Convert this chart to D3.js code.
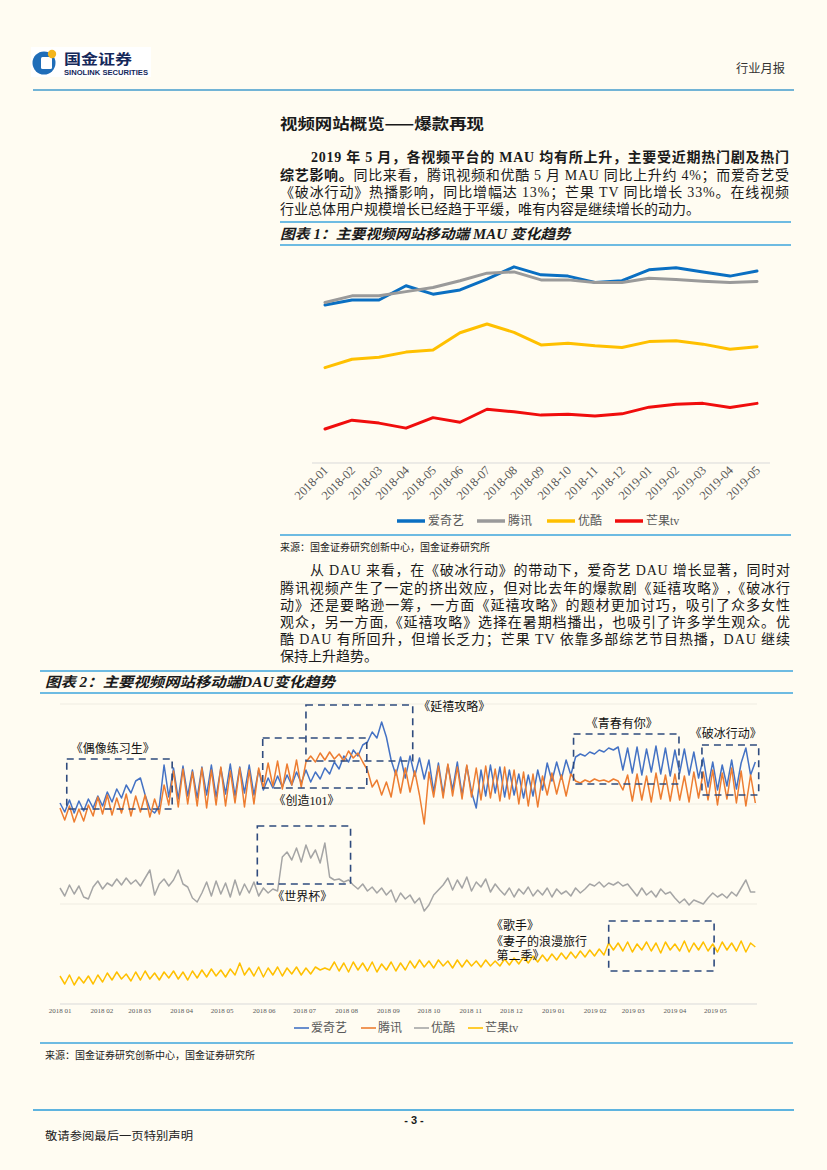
<!DOCTYPE html>
<html>
<head>
<meta charset="utf-8">
<script src="https://cdn.jsdelivr.net/npm/d3@7"></script>
<style>
  html, body { margin: 0; padding: 0; background: #fffcf2; }
  svg { display: block; }
</style>
</head>
<body>
<svg id="page" width="827" height="1170"></svg>
<script>
// ---- chart 1: monthly MAU (亿) ----
const mauMonths = ["2018-01","2018-02","2018-03","2018-04","2018-05","2018-06","2018-07","2018-08","2018-09",
  "2018-10","2018-11","2018-12","2019-01","2019-02","2019-03","2019-04","2019-05"];
const mauIqiyi   = [4.76,4.88,4.88,5.22,5.02,5.12,5.38,5.67,5.48,5.45,5.30,5.34,5.60,5.65,5.55,5.45,5.57];
const mauTencent = [4.82,4.98,4.98,5.08,5.18,5.34,5.52,5.55,5.36,5.36,5.30,5.30,5.40,5.37,5.33,5.30,5.32];
const mauYouku   = [3.27,3.47,3.52,3.64,3.69,4.10,4.31,4.11,3.81,3.85,3.79,3.75,3.89,3.91,3.83,3.71,3.77];
const mauMango   = [1.81,2.02,1.95,1.83,2.08,1.97,2.28,2.22,2.14,2.16,2.12,2.17,2.33,2.40,2.42,2.32,2.42];
const mauNames   = ["爱奇艺","腾讯","优酷","芒果tv"];

// ---- chart 2: DAU (万), one reading every 3.5 days from 2018-01-01 ----
const dauStart = "2018-01-01";
const dauStepHours = 84;
const dauIqiyi = [
  10050,9600,10200,9550,10150,9650,10250,
  9800,10400,9900,10600,10100,10750,10300,10950,10550,11150,11300,10450,9750,
  9550,9900,11950,
  10350,11800,10250,11900,10400,11700,10300,11850,10450,11950,10350,11800,10500,12000,10400,11850,10550,11950,10450,11700,
  10700,11300,10800,11400,10850,11450,10950,11600,11050,11700,
  11100,11600,11250,11800,11500,12100,11750,12400,12100,12700,12400,12950,13100,
  13600,13300,14100,13350,12200,
  11450,12350,11300,12400,11400,12300,11250,12200,
  10600,12050,10500,11950,10700,12100,10450,11900,10600,9800,11700,10400,11950,10550,11850,10350,11700,10450,11500,10300,11450,10400,11700,10700,
  12050,11150,12100,11250,12200,11450,
  12350,12500,12400,12600,12500,12700,12600,12800,12700,12850,
  11700,
  12800,11550,12850,11450,12750,11600,12900,11500,12800,11400,12700,11550,12750,11450,12600,11300,
  12300,10850,12100,10700,11950,10900,12200,10750,12050,12800,11450,12100
];
const dauTencent = [
  9800,9200,9900,9100,9750,9150,9950,
  9400,10350,9500,10450,9450,10300,9550,10500,9400,10400,9600,10450,9350,10250,9500,
  10950,9950,11650,9850,11750,10000,11600,9900,11800,9800,11700,9950,11850,9900,11650,10050,11800,9850,11700,10000,11800,
  10800,12050,10900,12150,10750,12000,10950,12200,10850,12100,
  12400,12100,12550,12200,12600,12250,12500,12150,12650,12300,12550,12100,
  11700,10850,11200,10450,11100,10350,
  11700,10550,11800,10600,11650,10450,
  9000,
  11600,10350,11900,10300,12000,10400,11850,10250,11950,10350,11800,10200,11900,10300,11750,10150,11850,10250,11700,10000,11600,9900,11500,9850,11400,
  10450,11550,10500,11450,10400,11500,
  11150,11050,11200,11100,11250,11150,11200,11100,11250,11150,
  10700,11450,10150,11500,10200,11400,10100,11550,10250,11450,10150,11500,10200,11400,10100,11600,10300,
  11600,10200,11700,9950,11550,10250,11800,10050,11650,9900,11450,10050
];
const dauYouku = [
  5800,5400,5950,5500,5900,5350,5250,
  5850,6150,5750,6050,5900,6250,5950,6300,6000,6200,5900,6300,
  6700,5450,
  6000,6250,5900,6200,6700,6000,5850,
  5300,5100,5550,
  6100,5400,6150,5500,6050,5350,6200,5450,6000,5550,6100,5400,
  5800,5550,5750,5650,
  7350,7600,7200,7800,7100,7950,7300,7700,7050,8050,
  6350,6200,6250,6100,6200,
  5950,5750,6000,5650,5850,5550,5800,5450,5700,5100,5550,5250,5450,5050,5300,4650,
  4950,5450,5700,
  5950,6300,5700,6200,5800,6350,5650,6100,5850,6250,5600,6000,
  5700,5450,5800,5350,5750,5500,5850,5400,5700,5450,5800,5350,5750,5500,5650,5400,5800,5550,5750,
  6000,5900,6100,5850,6050,5950,6100,5900,6000,
  5700,5400,5800,5450,5650,5350,5750,5500,5600,
  5300,5050,5250,4950,5200,5100,5000,5300,
  5550,5350,5500,5300,5600,5400,
  5800,6200,5600,5600
];
const dauMango = [
  1400,1000,1450,950,1350,1050,1400,1000,1450,1100,
  1550,1200,1600,1250,1500,1150,1600,1200,1650,1250,1550,1200,1600,1300,1650,1250,1600,1200,1650,1300,
  1700,1350,1750,1400,1700,1350,1750,1450,
  2050,
  1450,1800,1400,1850,1350,1800,1450,1850,1400,1800,1500,1850,1450,1800,1500,
  1850,1700,1800,1700,
  2100,1650,2050,1600,2100,1700,2050,1650,2100,1600,2000,1700,2100,1650,2050,1700,
  2150,1800,2200,1850,2150,1800,2200,1900,2150,1800,2200,1850,2200,1900,2150,1850,2200,1900,2150,
  1900,2250,1950,2300,2000,2350,2050,2400,2100,2450,2150,2500,2200,2550,2250,2600,2300,2650,2350,2700,2400,2750,2450,
  3050,
  2700,3050,2650,3100,2600,3000,2700,3100,2650,3050,2550,3100,2700,3000,2650,3150,2600,3050,2700,3100,
  2650,3000,2600,3100,2700,3050,2650,3150,2600,3050,2850
];
const dauNames = ["爱奇艺","腾讯","优酷","芒果tv"];
const dauTickLabels = ["2018 01","2018 02","2018 03","2018 04","2018 05","2018 06","2018 07","2018 08","2018 09",
  "2018 10","2018 11","2018 12","2019 01","2019 02","2019 03","2019 04","2019 05"];
const dauGrid = [0, 5000, 10000, 15000];
const dauBoxes = [
  { from: "2018-01-06", to: "2018-03-25", lo: 9750,  hi: 12250 },
  { from: "2018-05-31", to: "2018-08-16", lo: 10800, hi: 13300 },
  { from: "2018-07-02", to: "2018-09-19", lo: 12150, hi: 14950 },
  { from: "2018-05-27", to: "2018-08-04", lo: 6000,  hi: 8900 },
  { from: "2019-01-16", to: "2019-04-04", lo: 11000, hi: 13500 },
  { from: "2019-04-21", to: "2019-06-02", lo: 10450, hi: 12950 },
  { from: "2019-02-11", to: "2019-04-30", lo: 1650,  hi: 4150 },
];
const dauNotes = [
  { text: "《偶像练习生》", date: "2018-01-09", value: 12750 },
  { text: "《创造101》", date: "2018-06-08", value: 10150 },
  { text: "《延禧攻略》", date: "2018-09-23", value: 14850 },
  { text: "《世界杯》", date: "2018-06-07", value: 5350 },
  { text: "《青春有你》", date: "2019-01-25", value: 14000 },
  { text: "《破冰行动》", date: "2019-04-12", value: 13500 },
  { text: "《歌手》", date: "2018-11-16", value: 3900 },
  { text: "《妻子的浪漫旅行", date: "2018-11-16", value: 3100 },
  { text: "第二季》", date: "2018-11-20", value: 2400 },
];

const SERIF = '"Liberation Serif", "Noto Sans CJK SC", serif';
const CJK = '"Noto Sans CJK SC", sans-serif';
const RULE = "#3ea6dd";
const INK = "#1a1a1a";

const svg = d3.select("#page");
svg.append("rect").attr("width", 827).attr("height", 1170).attr("fill", "#fffcf2");

function text(x, y, str, o = {}) {
  const t = svg.append("text")
    .attr("x", x).attr("y", y)
    .attr("dominant-baseline", "central")
    .attr("font-family", o.family || SERIF)
    .attr("font-size", o.size || 14)
    .attr("fill", o.fill || INK)
    .text(str);
  if (o.weight) t.attr("font-weight", o.weight);
  if (o.italic) t.attr("font-style", "italic");
  if (o.anchor) t.attr("text-anchor", o.anchor);
  if (o.len) t.attr("textLength", o.len).attr("lengthAdjust", "spacingAndGlyphs");
  return t;
}

function rule(x1, x2, y, color, w) {
  svg.append("line").attr("x1", x1).attr("x2", x2).attr("y1", y).attr("y2", y)
    .attr("stroke", color).attr("stroke-width", w);
}

// ---- header ----
svg.append("rect").attr("x", 31).attr("y", 47).attr("width", 120).attr("height", 30).attr("fill", "#ffffff");
svg.append("circle").attr("cx", 44).attr("cy", 63).attr("r", 11.5).attr("fill", "#1f6db8");
svg.append("rect").attr("x", 41).attr("y", 57).attr("width", 11).attr("height", 12).attr("rx", 1.5).attr("fill", "#ffffff");
svg.append("circle").attr("cx", 52).attr("cy", 54).attr("r", 4.2).attr("fill", "#f3b51d");
text(64, 58, "国金证券", { family: CJK, size: 14, weight: 700, fill: "#14285a", len: 68 });
text(64, 72.5, "SINOLINK SECURITIES", { family: '"Liberation Sans", sans-serif', size: 6.5, weight: 700, fill: "#14285a", len: 84 });
text(736, 67, "行业月报", { family: CJK, size: 12, fill: "#333", len: 49 });
rule(33, 794, 90, "#72b4d6", 2);

// ---- section title + paragraph 1 ----
text(280, 122, "视频网站概览——爆款再现", { family: CJK, size: 15, weight: 700, len: 204 });

function para(lines) {
  lines.forEach(l => {
    const t = svg.append("text")
      .attr("x", l.x).attr("y", l.y)
      .attr("dominant-baseline", "central")
      .attr("font-family", SERIF).attr("font-size", 14).attr("fill", INK);
    l.parts.forEach(p => {
      t.append("tspan").attr("font-weight", p.bold ? 700 : 400).text(p.t);
    });
    if (l.len) t.attr("textLength", l.len).attr("lengthAdjust", "spacing");
  });
}

para([
  { x: 311, y: 157, len: 478, parts: [{ t: "2019 年 5 月，各视频平台的 MAU 均有所上升，主要受近期热门剧及热门", bold: true }] },
  { x: 280, y: 175, len: 509, parts: [{ t: "综艺影响。", bold: true }, { t: "同比来看，腾讯视频和优酷 5 月 MAU 同比上升约 4%；而爱奇艺受" }] },
  { x: 280, y: 192, len: 509, parts: [{ t: "《破冰行动》热播影响，同比增幅达 13%；芒果 TV 同比增长 33%。在线视频" }] },
  { x: 280, y: 209, parts: [{ t: "行业总体用户规模增长已经趋于平缓，唯有内容是继续增长的动力。" }] },
]);

// ---- chart 1 ----
rule(280, 791, 222, RULE, 1.5);
text(280, 234, "图表 1：主要视频网站移动端 MAU 变化趋势", { size: 14, weight: 700, italic: true, len: 290 });
rule(280, 791, 245, RULE, 1.5);

const x1 = d3.scalePoint().domain(mauMonths).range([325, 757]);
const y1 = d3.scaleLinear().domain([1, 6]).range([463, 253]);
const mauSeries = [mauIqiyi, mauTencent, mauYouku, mauMango];
const mauColors = ["#0a6fc2", "#9a9a9a", "#ffc000", "#f00d0d"];

const c1 = svg.append("g");
c1.append("line").attr("x1", 312).attr("x2", 770).attr("y1", y1(1)).attr("y2", y1(1))
  .attr("stroke", "#d9d9d9").attr("stroke-width", 1);
const line1 = d3.line().x((d, i) => x1(mauMonths[i])).y(d => y1(d));
c1.selectAll("path.mau").data(mauSeries).join("path")
  .attr("class", "mau")
  .attr("d", line1)
  .attr("fill", "none")
  .attr("stroke", (d, i) => mauColors[i])
  .attr("stroke-width", 3)
  .attr("stroke-linejoin", "round")
  .attr("stroke-linecap", "round");
c1.selectAll("text.xl").data(mauMonths).join("text")
  .attr("class", "xl")
  .attr("transform", d => `translate(${x1(d) + 4},${y1(1) + 8}) rotate(-45)`)
  .attr("text-anchor", "end")
  .attr("font-family", SERIF).attr("font-size", 12.5).attr("fill", "#595959")
  .text(d => d);

const leg1X = [397, 477, 547, 615];
mauNames.forEach((n, i) => {
  c1.append("line").attr("x1", leg1X[i]).attr("x2", leg1X[i] + 28).attr("y1", 521).attr("y2", 521)
    .attr("stroke", mauColors[i]).attr("stroke-width", 3.5);
  c1.append("text").attr("x", leg1X[i] + 31).attr("y", 521).attr("dominant-baseline", "central")
    .attr("font-family", SERIF).attr("font-size", 12).attr("fill", "#595959").text(n);
});

rule(280, 791, 535, RULE, 1.5);
text(280, 546, "来源：国金证券研究创新中心，国金证券研究所", { family: CJK, size: 10, fill: "#222" });

// ---- paragraph 2 ----
para([
  { x: 310, y: 570, len: 480, parts: [{ t: "从 DAU 来看，在《破冰行动》的带动下，爱奇艺 DAU 增长显著，同时对" }] },
  { x: 280, y: 588, len: 510, parts: [{ t: "腾讯视频产生了一定的挤出效应，但对比去年的爆款剧《延禧攻略》,《破冰行" }] },
  { x: 280, y: 605, len: 510, parts: [{ t: "动》还是要略逊一筹，一方面《延禧攻略》的题材更加讨巧，吸引了众多女性" }] },
  { x: 280, y: 622, len: 510, parts: [{ t: "观众，另一方面,《延禧攻略》选择在暑期档播出，也吸引了许多学生观众。优" }] },
  { x: 280, y: 639, len: 510, parts: [{ t: "酷 DAU 有所回升，但增长乏力；芒果 TV 依靠多部综艺节目热播，DAU 继续" }] },
  { x: 280, y: 656, parts: [{ t: "保持上升趋势。" }] },
]);

// ---- chart 2 ----
rule(40, 793, 671, RULE, 1.5);
text(45, 682, "图表 2：主要视频网站移动端DAU变化趋势", { size: 14, weight: 700, italic: true, len: 290 });
rule(40, 793, 693, RULE, 1.5);

const parseDay = d3.timeParse("%Y-%m-%d");
const parseTick = d3.timeParse("%Y %m");
const t0 = parseDay(dauStart);
const x2 = d3.scaleTime().domain([t0, parseDay("2019-05-31")]).range([60, 756]);
const y2 = d3.scaleLinear().domain([0, 15200]).range([1004, 700]);
const dauSeries = [dauIqiyi, dauTencent, dauYouku, dauMango];
const dauColors = ["#4472c4", "#ed7d31", "#a5a5a5", "#ffc000"];

const c2 = svg.append("g");
c2.selectAll("line.grid").data(dauGrid).join("line")
  .attr("class", "grid")
  .attr("x1", 60).attr("x2", 757)
  .attr("y1", d => y2(d)).attr("y2", d => y2(d))
  .attr("stroke", d => d === 0 ? "#d9d9d9" : "#efece2")
  .attr("stroke-width", 1);

const line2 = d3.line()
  .x((d, i) => x2(d3.timeHour.offset(t0, i * dauStepHours)))
  .y(d => y2(d));
c2.selectAll("path.dau").data(dauSeries).join("path")
  .attr("class", "dau")
  .attr("d", line2)
  .attr("fill", "none")
  .attr("stroke", (d, i) => dauColors[i])
  .attr("stroke-width", 1.5)
  .attr("stroke-linejoin", "round");

c2.selectAll("rect.box").data(dauBoxes).join("rect")
  .attr("class", "box")
  .attr("x", d => x2(parseDay(d.from)))
  .attr("width", d => x2(parseDay(d.to)) - x2(parseDay(d.from)))
  .attr("y", d => y2(d.hi))
  .attr("height", d => y2(d.lo) - y2(d.hi))
  .attr("fill", "none")
  .attr("stroke", "#2f4b7e")
  .attr("stroke-width", 1.6)
  .attr("stroke-dasharray", "7,5");

c2.selectAll("text.note").data(dauNotes).join("text")
  .attr("class", "note")
  .attr("x", d => x2(parseDay(d.date)))
  .attr("y", d => y2(d.value))
  .attr("dominant-baseline", "central")
  .attr("font-family", SERIF).attr("font-size", 12).attr("fill", "#111")
  .text(d => d.text);

c2.selectAll("text.tick").data(dauTickLabels).join("text")
  .attr("class", "tick")
  .attr("x", d => x2(parseTick(d)))
  .attr("y", 1011)
  .attr("text-anchor", "middle")
  .attr("dominant-baseline", "central")
  .attr("font-family", SERIF).attr("font-size", 7).attr("fill", "#595959")
  .text(d => d);

const leg2X = [294, 361, 414, 468];
dauNames.forEach((n, i) => {
  c2.append("line").attr("x1", leg2X[i]).attr("x2", leg2X[i] + 15).attr("y1", 1028).attr("y2", 1028)
    .attr("stroke", dauColors[i]).attr("stroke-width", 1.6);
  c2.append("text").attr("x", leg2X[i] + 17).attr("y", 1028).attr("dominant-baseline", "central")
    .attr("font-family", SERIF).attr("font-size", 12).attr("fill", "#595959").text(n);
});

rule(40, 793, 1043, RULE, 1.5);
text(45, 1054, "来源：国金证券研究创新中心，国金证券研究所", { family: CJK, size: 10, fill: "#222" });

// ---- footer ----
rule(33, 794, 1110, "#2a9cd8", 1.5);
text(414, 1120, "- 3 -", { family: '"Liberation Sans", sans-serif', size: 11, weight: 700, anchor: "middle" });
text(45, 1135, "敬请参阅最后一页特别声明", { family: CJK, size: 11, fill: "#222", len: 148 });
</script>
</body>
</html>
